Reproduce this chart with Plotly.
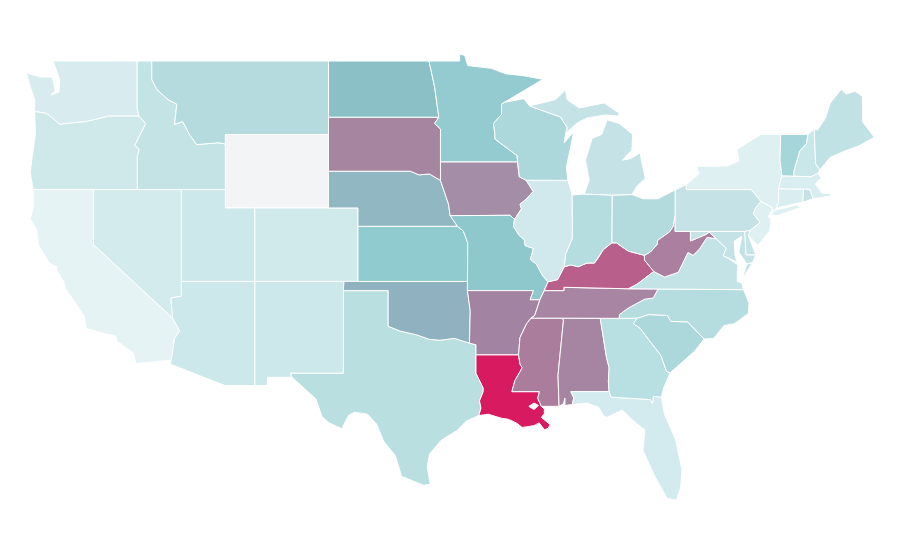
import plotly.graph_objects as go

# per state fill
state_colors = {
    "WA": "#d8ecef", "OR": "#cfe8ea", "CA": "#e5f3f5", "NV": "#d3ebed", "ID": "#c4e3e5", "MT": "#b5dbde",
    "WY": "#f3f4f6", "UT": "#cde8ea", "CO": "#d0e9eb", "AZ": "#cde8ea", "NM": "#cde8ea", "TX": "#b9dfe1",
    "ND": "#8cc0c7", "SD": "#a685a0", "NE": "#90b7c2", "KS": "#8fcbcf", "OK": "#90b1bf", "MN": "#94cbd0",
    "IA": "#a48da7", "MO": "#8ec8cc", "AR": "#a383a2", "LA": "#d81b60", "WI": "#acd8dc", "IL": "#d1e9ec",
    "MI": "#c5e3e6", "IN": "#b5dcdf", "OH": "#b3dadd", "KY": "#b95f8b", "TN": "#a885a2", "MS": "#aa7d9d",
    "AL": "#a585a2", "GA": "#b8dfe1", "FL": "#d3ebee", "SC": "#acd8dc", "NC": "#b5dcdf", "VA": "#c3e3e6",
    "WV": "#aa7f9f", "PA": "#c5e3e6", "NY": "#dff0f3", "VT": "#a5d6d9", "NH": "#c9e6e8", "ME": "#c1e2e5",
    "MA": "#d9eef0", "CT": "#d9eef0", "RI": "#c5e3e6", "NJ": "#dff0f3", "DE": "#c3e3e6", "MD": "#c5e3e6",
}

# shared borders, lon/lat, hand approximated
miss_up = [(-91.22, 43.5), (-91.1, 42.7), (-90.64, 42.51), (-90.15, 41.9), (-90.6, 41.5), (-91.05, 41.2),
           (-90.95, 40.95), (-91.42, 40.38), (-91.5, 40.0), (-91.1, 39.5), (-90.75, 39.25), (-90.7, 38.95),
           (-90.15, 38.8), (-90.2, 38.6), (-90.35, 38.2), (-89.95, 37.95), (-89.5, 37.3), (-89.15, 36.98)]
miss_tn = [(-89.4, 36.5), (-89.7, 36.0), (-90.05, 35.15), (-90.3, 35.0)]
miss_ar = [(-90.3, 35.0), (-90.6, 34.7), (-91.05, 33.95), (-91.15, 33.0)]
miss_la = [(-91.15, 33.0), (-91.05, 32.5), (-90.9, 32.3), (-91.4, 31.6), (-91.6, 31.0)]
ohio = [(-89.15, 36.98), (-88.5, 37.1), (-88.05, 37.8), (-87.6, 37.9), (-87.1, 37.8), (-86.5, 38.0), (-86.0, 38.0),
        (-85.75, 38.27), (-85.4, 38.73), (-84.82, 39.1), (-84.5, 39.1), (-83.7, 38.65), (-82.6, 38.42), (-82.2, 38.6),
        (-81.75, 39.0), (-81.7, 39.25), (-80.9, 39.7), (-80.65, 40.0), (-80.52, 40.64)]
ohio_il = ohio[:3]
ohio_in = ohio[2:10]
ohio_ky = ohio[:13]
ohio_oh = ohio[9:]
ohio_wv = ohio[12:]
red_river = [(-100.0, 34.56), (-99.2, 34.3), (-98.1, 34.1), (-97.2, 33.85), (-96.5, 33.8), (-95.5, 33.9), (-94.48, 33.64)]
missouri = [(-96.45, 42.5), (-96.1, 41.7), (-95.9, 41.2), (-95.8, 40.6)]
snake = [(-117.03, 42.0), (-117.03, 43.8), (-116.9, 44.2), (-117.2, 44.4), (-116.46, 45.6), (-116.92, 46.0), (-117.04, 46.42), (-117.04, 49.0)]
id_mt = [(-116.05, 49.0), (-116.05, 48.0), (-115.7, 47.45), (-114.95, 46.9), (-114.35, 46.65), (-114.5, 45.55),
         (-113.95, 45.7), (-113.45, 44.95), (-113.0, 44.45), (-111.5, 44.55), (-111.05, 44.48)]
wa_or = [(-116.92, 46.0), (-118.98, 46.0), (-119.3, 45.93), (-120.5, 45.7), (-121.2, 45.65), (-122.3, 45.55),
         (-122.8, 45.9), (-123.2, 46.15), (-124.0, 46.25)]
colorado = [(-114.63, 35.0), (-114.15, 34.3), (-114.5, 33.9), (-114.72, 32.72)]
tn_nc = [(-84.32, 34.99), (-84.3, 35.2), (-83.7, 35.55), (-82.6, 36.03), (-82.0, 36.1), (-81.68, 36.59)]
sc_nc = [(-83.1, 35.0), (-82.3, 35.2), (-81.05, 35.15), (-80.8, 34.82), (-79.67, 34.8), (-78.55, 33.86)]
ga_sc = [(-83.1, 35.0), (-83.35, 34.7), (-82.9, 34.45), (-81.9, 33.4), (-81.5, 33.0), (-81.1, 32.1), (-80.85, 32.03)]
ga_fl = [(-85.0, 31.0), (-84.86, 30.7), (-82.2, 30.57), (-82.05, 30.35), (-82.0, 30.75), (-81.45, 30.7)]
va_wv = [(-82.6, 38.42), (-82.6, 38.17), (-81.97, 37.54), (-81.23, 37.24), (-80.3, 37.5), (-79.65, 38.58),
         (-79.3, 38.42), (-78.87, 38.76), (-78.35, 39.4), (-77.72, 39.32)]
potomac = [(-77.72, 39.32), (-77.5, 39.12), (-77.05, 38.8), (-77.25, 38.4), (-77.0, 38.3)]
vt_nh = [(-71.5, 45.0), (-71.6, 44.5), (-72.05, 44.1), (-72.45, 43.0), (-72.45, 42.73)]
gap = [(None, None)]

outlines = {
    "WA": [(-124.55, 48.35), (-123.6, 48.13), (-122.8, 48.12), (-122.6, 47.4), (-122.9, 47.15), (-122.35, 47.3), (-122.3, 48.0),
           (-122.5, 48.4), (-122.75, 49.0)] + snake[:5:-1] + wa_or + [(-124.0, 46.9), (-124.3, 47.6)],
    "OR": wa_or[::-1][:1] + [(-123.95, 45.0), (-124.15, 43.9), (-124.3, 42.9), (-124.1, 42.0), (-120.0, 42.0)] + snake[:6] + wa_or[1:],
    "CA": [(-124.1, 42.0), (-120.0, 42.0), (-120.0, 39.0)] + colorado + [(-117.12, 32.53), (-117.3, 33.1), (-118.4, 33.75),
          (-118.5, 34.03), (-119.2, 34.15), (-120.5, 34.45), (-120.65, 35.15), (-121.9, 36.6), (-122.0, 36.95), (-122.5, 37.6),
          (-122.5, 37.8), (-123.0, 38.0), (-123.75, 39.0), (-123.85, 39.8), (-124.3, 40.4), (-124.1, 41.0)],
    "NV": [(-120.0, 42.0), (-114.04, 42.0), (-114.04, 36.2), (-114.75, 36.1), (-114.63, 35.0), (-120.0, 39.0)],
    "ID": [(-117.04, 49.0)] + id_mt + [(-111.05, 42.0), (-114.04, 42.0)] + snake[:-1],
    "MT": [(-116.05, 49.0), (-104.05, 49.0), (-104.05, 45.0), (-111.05, 45.0)] + id_mt[::-1],
    "WY": [(-111.05, 45.0), (-104.05, 45.0), (-104.05, 41.0), (-111.05, 41.0)],
    "UT": [(-114.04, 42.0), (-111.05, 42.0), (-111.05, 41.0), (-109.05, 41.0), (-109.05, 37.0), (-114.04, 37.0)],
    "CO": [(-109.05, 41.0), (-102.05, 41.0), (-102.05, 37.0), (-109.05, 37.0)],
    "AZ": [(-114.04, 37.0), (-109.05, 37.0), (-109.05, 31.33), (-111.07, 31.33), (-114.81, 32.5)] + colorado[::-1]
          + [(-114.75, 36.1), (-114.04, 36.2)],
    "NM": [(-109.05, 37.0), (-103.0, 37.0), (-103.04, 32.0), (-106.62, 32.0), (-106.53, 31.78), (-108.2, 31.78),
           (-108.2, 31.33), (-109.05, 31.33)],
    "TX": [(-103.04, 36.5), (-100.0, 36.5)] + red_river + [(-94.04, 33.55), (-94.04, 32.0), (-93.55, 31.2), (-93.55, 31.0),
          (-93.8, 30.5), (-93.7, 30.1), (-93.85, 29.7), (-94.7, 29.4), (-95.3, 28.9), (-96.4, 28.35), (-97.2, 27.6),
          (-97.35, 26.9), (-97.15, 25.96), (-97.6, 25.9), (-99.1, 26.4), (-99.5, 27.5), (-100.3, 28.3), (-100.8, 29.25),
          (-101.4, 29.77), (-102.3, 29.88), (-102.7, 29.7), (-103.15, 28.98), (-104.0, 29.3), (-104.5, 29.65), (-104.9, 30.6),
          (-106.0, 31.4), (-106.53, 31.78), (-106.62, 32.0), (-103.04, 32.0)],
    "OK": [(-103.0, 37.0), (-94.62, 37.0), (-94.62, 36.5), (-94.43, 35.4), (-94.48, 33.64)] + red_river[::-1]
          + [(-100.0, 36.5), (-103.04, 36.5)],
    "KS": [(-102.05, 40.0), (-95.3, 40.0), (-94.9, 39.75), (-94.6, 39.1), (-94.62, 37.0), (-102.05, 37.0)],
    "NE": [(-104.05, 43.0), (-98.5, 43.0), (-97.9, 42.8), (-97.2, 42.85)] + missouri + [(-95.3, 40.0), (-102.05, 40.0),
          (-102.05, 41.0), (-104.05, 41.0)],
    "SD": [(-104.05, 45.94), (-96.56, 45.94), (-96.85, 45.6), (-96.45, 45.3), (-96.45, 43.5), (-96.45, 42.5), (-97.2, 42.85),
           (-97.9, 42.8), (-98.5, 43.0), (-104.05, 43.0)],
    "ND": [(-104.05, 49.0), (-97.23, 49.0), (-96.85, 47.6), (-96.56, 45.94), (-104.05, 45.94)],
    "MN": [(-97.23, 49.0), (-95.15, 49.0), (-95.15, 49.38), (-94.8, 49.3), (-94.6, 48.75), (-93.0, 48.6), (-92.0, 48.3),
           (-90.8, 48.2), (-89.5, 48.0), (-92.1, 46.75), (-92.3, 46.66), (-92.3, 46.1), (-92.85, 45.6), (-92.75, 45.0),
           (-92.75, 44.75), (-91.25, 43.85), (-91.22, 43.5), (-96.45, 43.5), (-96.45, 45.3), (-96.85, 45.6), (-96.56, 45.94),
           (-96.85, 47.6)],
    "IA": [(-96.45, 43.5)] + miss_up[:8] + [(-91.73, 40.6), (-95.77, 40.58)] + missouri[::-1],
    "MO": [(-95.77, 40.58), (-91.73, 40.6)] + miss_up[7:] + miss_tn[:2] + [(-90.37, 36.0), (-90.15, 36.5), (-94.62, 36.5),
          (-94.62, 37.0), (-94.6, 39.1), (-94.9, 39.75), (-95.3, 40.0), (-95.8, 40.6)],
    "AR": [(-94.62, 36.5), (-90.15, 36.5), (-90.37, 36.0)] + miss_tn[1:] + miss_ar[1:] + [(-94.04, 33.0), (-94.04, 33.55),
          (-94.48, 33.64), (-94.43, 35.4)],
    "LA": [(-94.04, 33.0)] + miss_la + [(-89.73, 31.0), (-89.85, 30.65), (-89.6, 30.2), (-89.4, 30.05), (-89.4, 29.8),
          (-89.6, 29.6), (-89.0, 29.2), (-89.15, 29.0), (-89.4, 28.93), (-89.75, 29.3), (-90.1, 29.15), (-90.9, 29.05),
          (-91.3, 29.3), (-91.85, 29.5), (-92.3, 29.55), (-93.2, 29.77), (-93.85, 29.7), (-93.7, 30.1), (-93.8, 30.5),
          (-93.55, 31.0), (-93.55, 31.2), (-94.04, 32.0)],
    "MS": miss_ar + [(-91.05, 32.5), (-90.9, 32.3), (-91.4, 31.6), (-91.6, 31.0), (-89.73, 31.0), (-89.85, 30.65), (-89.6, 30.2),
          (-88.4, 30.2), (-88.47, 31.9), (-88.1, 34.9), (-88.2, 35.0)],
    "AL": [(-88.2, 35.0), (-85.6, 34.98), (-85.18, 32.87), (-85.0, 32.3), (-85.05, 31.55), (-85.0, 31.0), (-87.6, 31.0),
           (-87.4, 30.65), (-87.5, 30.3), (-88.0, 30.25), (-88.0, 30.65), (-88.1, 30.35), (-88.4, 30.2), (-88.47, 31.9), (-88.1, 34.9)],
    "FL": [(-87.6, 31.0)] + ga_fl + [(-81.25, 29.8), (-80.5, 28.4), (-80.05, 26.75), (-80.15, 25.75), (-80.45, 25.1), (-81.07, 25.2),
          (-81.9, 26.4), (-82.7, 27.8), (-82.57, 28.9), (-83.4, 29.45), (-84.1, 30.0), (-85.15, 29.6),
          (-85.4, 29.7), (-85.7, 30.15), (-86.5, 30.38), (-87.5, 30.3), (-87.4, 30.65)],
    "GA": [(-85.6, 34.98)] + ga_sc + [(-81.3, 31.2)] + ga_fl[::-1] + [(-85.05, 31.55), (-85.0, 32.3), (-85.18, 32.87)],
    "SC": sc_nc + [(-79.2, 33.2), (-79.9, 32.7)] + ga_sc[::-1],
    "NC": tn_nc[:1] + sc_nc + [(-77.9, 33.9), (-77.2, 34.6), (-76.5, 34.7), (-75.55, 35.25), (-75.5, 35.8), (-75.87, 36.55)] + tn_nc[:0:-1],
    "TN": miss_tn[::-1] + [(-89.4, 36.5), (-88.07, 36.5), (-88.07, 36.68), (-83.68, 36.6)] + tn_nc[::-1] + [(-85.6, 34.98), (-88.2, 35.0)],
    "KY": [(-89.4, 36.5), (-88.07, 36.5), (-88.07, 36.68), (-83.68, 36.6), (-83.1, 36.85), (-81.97, 37.54), (-82.6, 38.17)]
          + ohio_ky[::-1],
    "VA": [(-83.68, 36.6), (-81.68, 36.59), (-75.87, 36.55), (-76.0, 36.92), (-76.3, 37.0), (-76.3, 37.5), (-76.25, 37.9)]
          + potomac[::-1] + va_wv[:1:-1] + [(-83.1, 36.85)] + gap + [(-75.95, 37.15), (-75.25, 38.03), (-75.65, 37.95)],
    "WV": va_wv + [(-78.2, 39.68), (-78.45, 39.55), (-79.48, 39.2), (-79.48, 39.72), (-80.52, 39.72)] + ohio_wv[::-1],
    "MD": [(-79.48, 39.72), (-75.79, 39.72), (-75.7, 38.45), (-75.05, 38.45), (-75.25, 38.03), (-75.65, 37.95), (-76.2, 38.6),
           (-76.0, 39.45), (-76.5, 39.2), (-76.45, 38.4), (-76.3, 38.05)] + potomac[::-1] + [(-78.2, 39.68), (-78.45, 39.55), (-79.48, 39.2)],
    "DE": [(-75.79, 39.72), (-75.4, 39.8), (-75.55, 39.5), (-75.05, 38.45), (-75.7, 38.45)],
    "PA": [(-80.52, 41.98), (-79.76, 42.27), (-79.76, 42.0), (-75.35, 42.0), (-74.7, 41.36), (-75.1, 40.95), (-75.2, 40.68),
           (-74.75, 40.2), (-75.4, 39.8), (-75.79, 39.72), (-80.52, 39.72)],
    "OH": [(-84.8, 41.7), (-83.45, 41.73), (-82.7, 41.5), (-81.7, 41.5), (-80.52, 41.98)] + ohio_oh[::-1],
    "IN": [(-87.52, 41.7), (-86.7, 41.76), (-84.8, 41.7)] + ohio_in[::-1] + [(-87.95, 38.5), (-87.5, 39.35)],
    "IL": [(-90.64, 42.51), (-87.8, 42.5), (-87.55, 41.85), (-87.52, 41.7), (-87.5, 39.35), (-87.95, 38.5)] + ohio_il[::-1] + miss_up[:2:-1],
    "WI": [(-92.3, 46.66), (-92.1, 46.75), (-90.8, 46.95), (-90.4, 46.55), (-88.3, 45.95), (-87.83, 45.36), (-87.95, 45.05), (-88.05, 44.55),
           (-87.4, 45.15), (-87.6, 44.4), (-87.9, 43.2), (-87.8, 42.5), (-90.64, 42.51), (-91.1, 42.7), (-91.22, 43.5), (-91.25, 43.85),
           (-92.75, 44.75), (-92.75, 45.0), (-92.85, 45.6), (-92.3, 46.1)],
    "MI": [(-86.7, 41.76), (-84.8, 41.7), (-83.45, 41.73), (-83.1, 42.2), (-82.55, 42.6), (-82.65, 43.0), (-82.9, 44.0), (-83.5, 43.7),
           (-84.1, 43.6), (-83.46, 44.16), (-83.4, 45.0), (-84.3, 45.6), (-85.14, 45.79), (-85.5, 45.0), (-86.15, 44.8), (-86.6, 43.6),
           (-86.35, 42.5)] + gap + [(-90.4, 46.55), (-88.3, 45.95), (-87.83, 45.36), (-87.95, 45.05), (-87.17, 45.63), (-86.5, 45.9),
           (-85.27, 46.06), (-84.33, 46.0), (-84.33, 46.17), (-85.34, 46.72), (-87.03, 46.44), (-87.83, 46.88), (-87.96, 47.42),
           (-88.64, 46.9)],
    "NY": [(-79.76, 42.27), (-79.76, 42.0), (-75.35, 42.0), (-74.7, 41.36), (-73.9, 41.0), (-74.0, 40.7), (-73.65, 41.0), (-73.5, 41.3),
           (-73.5, 42.05), (-73.27, 42.75), (-73.4, 43.6), (-73.35, 45.0), (-74.7, 45.0), (-76.3, 44.2), (-76.2, 43.55), (-77.0, 43.28),
           (-79.05, 43.27), (-78.9, 42.85)] + gap + [(-74.0, 40.6), (-73.75, 40.88), (-72.3, 41.15), (-71.9, 41.05), (-73.5, 40.6)],
    "NJ": [(-75.2, 40.68), (-75.1, 40.95), (-74.7, 41.36), (-73.9, 41.0), (-74.2, 40.5), (-74.0, 40.4), (-74.1, 39.75), (-74.9, 38.95),
           (-75.55, 39.5), (-75.4, 39.8), (-74.75, 40.2)],
    "CT": [(-73.5, 42.05), (-71.8, 42.02), (-71.85, 41.32), (-73.65, 41.0), (-73.5, 41.3)],
    "RI": [(-71.8, 42.02), (-71.38, 42.02), (-71.15, 41.5), (-71.85, 41.32)],
    "MA": [(-73.5, 42.05), (-73.27, 42.75), (-72.45, 42.73), (-71.3, 42.7), (-70.85, 42.88), (-70.6, 42.65), (-71.0, 42.3), (-70.55, 41.8),
           (-70.0, 41.8), (-70.0, 42.05), (-69.95, 41.67), (-70.65, 41.55), (-71.15, 41.5), (-71.38, 42.02), (-71.8, 42.02)],
    "VT": [(-73.35, 45.0)] + vt_nh + [(-73.27, 42.75), (-73.4, 43.6)],
    "NH": [(-71.5, 45.0), (-71.08, 45.3), (-70.98, 43.4), (-70.7, 43.07), (-70.85, 42.88), (-71.3, 42.7)] + vt_nh[:0:-1],
    "ME": [(-71.08, 45.3), (-70.85, 45.25), (-70.3, 45.9), (-70.0, 46.7), (-69.23, 47.46), (-68.9, 47.2), (-68.3, 47.35), (-67.8, 47.07),
           (-67.8, 45.7), (-67.45, 45.3), (-67.0, 44.85), (-68.0, 44.4), (-69.0, 44.1), (-70.0, 43.75), (-70.7, 43.07), (-70.98, 43.4)],
}
# lake Pontchartrain shows as a white hole in Louisiana
lake = [(-90.45, 30.2), (-90.1, 30.38), (-89.8, 30.25), (-90.1, 30.03)]

fig = go.Figure()
for st, pts in outlines.items():
    # close each ring, None marks the start of the next one
    lons, lats, first = [], [], None
    for lon, lat in pts + gap:
        if lon is None:
            lons += [first[0], None]
            lats += [first[1], None]
            first = None
            continue
        if first is None:
            first = (lon, lat)
        lons.append(lon)
        lats.append(lat)
    fig.add_trace(go.Scatter(
        x=lons, y=lats, name=st, mode="lines",
        line=dict(color="white", width=1),
        fill="toself", fillcolor=state_colors[st],
        hoveron="fills", showlegend=False,
    ))

fig.add_trace(go.Scatter(
    x=[p[0] for p in lake] + [lake[0][0]], y=[p[1] for p in lake] + [lake[0][1]],
    mode="lines", line=dict(color="white", width=1), fill="toself", fillcolor="white",
    hoverinfo="skip", showlegend=False,
))

fig.update_layout(
    width=900, height=560,
    margin=dict(l=0, r=0, t=0, b=0),
    paper_bgcolor="white", plot_bgcolor="white",
    # the page puts the plot 8px in from the corner, the ranges make up for it
    xaxis=dict(visible=False, range=[-125.81, -64.71]),
    yaxis=dict(visible=False, range=[21.40, 51.885]),
    showlegend=False,
)
fig.write_html("out.html")
